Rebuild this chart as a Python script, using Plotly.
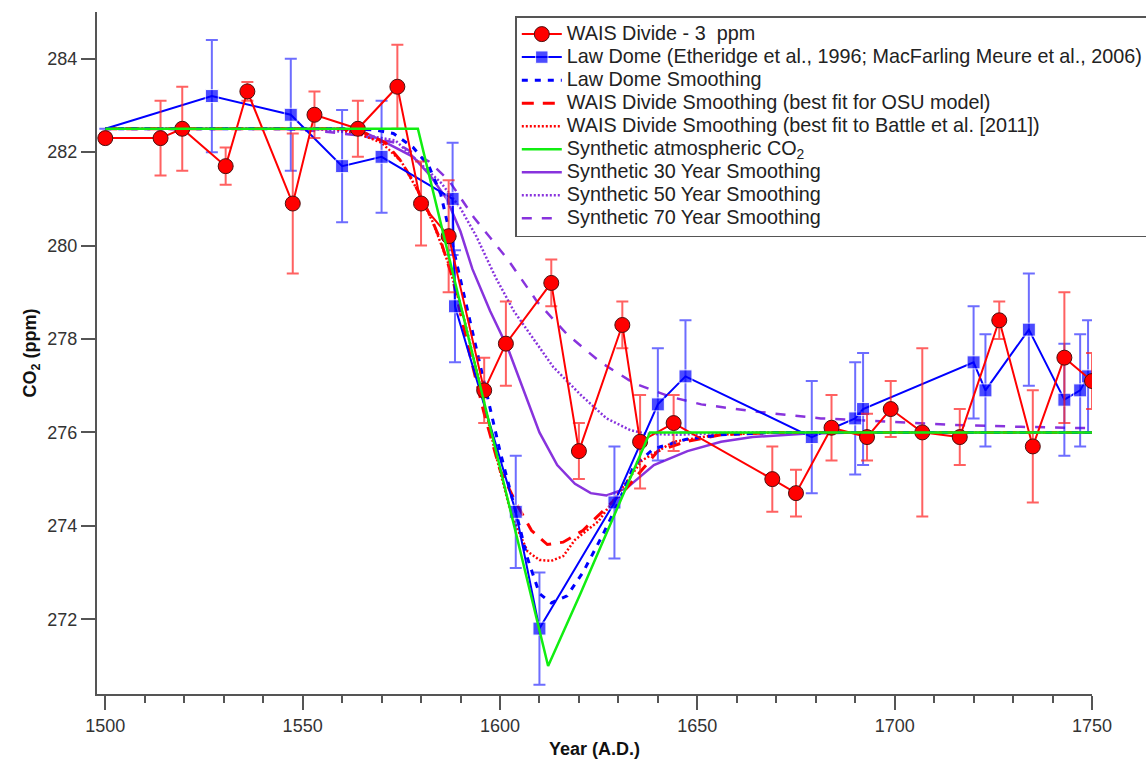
import plotly.graph_objects as go

# ---------------- data ----------------
wais_year = [1500, 1514, 1519.5, 1530.5, 1536, 1547.5, 1553, 1564, 1574, 1580, 1587,
             1596, 1601.5, 1613, 1620, 1631, 1635.5, 1644, 1669, 1675, 1684, 1693,
             1699, 1707, 1716.5, 1726.5, 1735, 1743, 1750]
wais_co2 = [282.3, 282.3, 282.5, 281.7, 283.3, 280.9, 282.8, 282.5, 283.4, 280.9, 280.2,
            276.9, 277.9, 279.2, 275.6, 278.3, 275.8, 276.2, 275.0, 274.7, 276.1, 275.9,
            276.5, 276.0, 275.9, 278.4, 275.7, 277.6, 277.1]
wais_err = [0.1, 0.8, 0.9, 0.4, 0.2, 1.5, 0.5, 0.6, 0.9, 0.9, 1.2,
            0.7, 0.9, 0.5, 0.6, 0.5, 1.0, 0.6, 0.7, 0.5, 0.7, 0.5,
            0.6, 1.8, 0.6, 0.4, 1.2, 1.4, 0.6]

ld_year = [1500, 1527, 1547, 1560, 1570, 1588, 1588.6, 1604, 1610, 1629, 1640, 1647,
           1679, 1690, 1692, 1720, 1723, 1734, 1743, 1747, 1749]
ld_co2 = [282.5, 283.2, 282.8, 281.7, 281.9, 281.0, 278.7, 274.3, 271.8, 274.5, 276.6, 277.2,
          275.9, 276.3, 276.5, 277.5, 276.9, 278.2, 276.7, 276.9, 277.2]
ld_err = [None, 1.2, 1.2, 1.2, 1.2, 1.2, 1.2, 1.2, 1.2, 1.2, 1.2, 1.2,
          1.2, 1.2, 1.2, 1.2, 1.2, 1.2, 1.2, 1.2, 1.2]
ld_size = [0] + [13] * 20

lds_year = [1500, 1560, 1568, 1573, 1578, 1582, 1585, 1588, 1592, 1596, 1600, 1604, 1607,
            1610, 1613, 1617, 1621, 1626, 1630, 1634, 1639, 1647, 1656, 1670, 1750]
lds_co2 = [282.5, 282.5, 282.48, 282.4, 282.1, 281.7, 281.1, 280.0, 278.5, 277.0, 275.6, 274.3,
           273.3, 272.55, 272.35, 272.5, 273.0, 273.8, 274.5, 275.3, 275.65, 275.85, 275.95,
           276.0, 276.0]

wo_year = [1500, 1560, 1566, 1571, 1575, 1578.5, 1582, 1585, 1588, 1592, 1596, 1600, 1604,
           1608, 1612, 1616, 1621, 1626, 1632, 1636, 1640, 1647, 1656, 1670, 1750]
wo_co2 = [282.5, 282.5, 282.4, 282.2, 281.8, 281.3, 280.7, 280.1, 279.3, 277.8, 276.4, 275.2,
          274.5, 273.9, 273.6, 273.65, 273.9, 274.3, 274.8, 275.2, 275.6, 275.8, 275.95,
          276.0, 276.0]

wb_year = [1500, 1558, 1564, 1570, 1575, 1579, 1583, 1587, 1591, 1595, 1599, 1603, 1607,
           1610, 1613, 1616, 1619, 1625, 1630, 1636, 1644, 1655, 1670, 1750]
wb_co2 = [282.5, 282.5, 282.4, 282.2, 281.8, 281.2, 280.5, 279.6, 278.4, 277.0, 275.5, 274.2,
          273.45, 273.27, 273.25, 273.35, 273.7, 274.1, 274.7, 275.4, 275.8, 275.95, 276.0, 276.0]

syn_year = [1500, 1579.2, 1612.2, 1620.4, 1638, 1750]
syn_co2 = [282.5, 282.5, 271.0, 272.55, 276.0, 276.0]

s30_year = [1500, 1560, 1565, 1570, 1578, 1582.3, 1586.5, 1590, 1593, 1597.5, 1602, 1606,
            1610, 1614.5, 1619, 1623, 1627, 1632, 1639, 1647.5, 1656, 1664, 1677, 1690, 1750]
s30_co2 = [282.5, 282.5, 282.45, 282.25, 281.9, 281.5, 281.0, 280.3, 279.5, 278.6, 277.8, 276.9,
           276.0, 275.3, 274.9, 274.7, 274.65, 274.8, 275.3, 275.6, 275.8, 275.9, 275.97,
           276.0, 276.0]

s50_year = [1500, 1553, 1563.5, 1573.5, 1580.5, 1585, 1590, 1594, 1599, 1603.5, 1608.5,
            1613.5, 1620.5, 1627, 1633, 1637, 1645, 1660, 1750]
s50_co2 = [282.5, 282.5, 282.4, 282.25, 281.7, 281.35, 280.8, 280.2, 279.3, 278.6, 278.0,
           277.4, 276.8, 276.3, 276.05, 275.97, 275.95, 276.0, 276.0]

s70_year = [1500, 1545, 1556.5, 1565, 1573.5, 1582, 1587, 1593.4, 1597.7, 1602, 1609.4, 1617,
            1625.5, 1634, 1643.3, 1651, 1664.4, 1681.3, 1698.2, 1715.2, 1732, 1750]
s70_co2 = [282.5, 282.5, 282.43, 282.35, 282.2, 281.8, 281.4, 280.6, 280.15, 279.7, 278.8, 278.1,
           277.5, 277.05, 276.76, 276.6, 276.45, 276.3, 276.23, 276.16, 276.12, 276.09]

y_ticks = [272, 274, 276, 278, 280, 282, 284]
x_ticks = [1500, 1550, 1600, 1650, 1700, 1750]

# ---------------- styles ----------------
RED = "#ff0000"
BLUE = "#0000ff"
GREEN = "#11ee11"
PURPLE = "#8833dd"
FONT = "Liberation Sans, Arial, sans-serif"


def lg(text):
    # legend label: larger glyphs than the legend's row height font
    return '<span style="font-size:19.8px">' + text + '</span>'


fig = go.Figure()

# smoothings (drawn first, underneath)
fig.add_trace(go.Scatter(x=s70_year, y=s70_co2, mode="lines", name=lg("Synthetic 70 Year Smoothing"),
                         line=dict(color=PURPLE, width=2.5, dash="10px,10px"), legendrank=9))
fig.add_trace(go.Scatter(x=s50_year, y=s50_co2, mode="lines", name=lg("Synthetic 50 Year Smoothing"),
                         line=dict(color=PURPLE, width=2.5, dash="2px,2px"), legendrank=8))
fig.add_trace(go.Scatter(x=s30_year, y=s30_co2, mode="lines", name=lg("Synthetic 30 Year Smoothing"),
                         line=dict(color=PURPLE, width=2.5), legendrank=7))
fig.add_trace(go.Scatter(x=wb_year, y=wb_co2, mode="lines",
                         name=lg("WAIS Divide Smoothing (best fit to Battle et al. [2011])"),
                         line=dict(color=RED, width=2.5, dash="2px,2px"), legendrank=5))
fig.add_trace(go.Scatter(x=wo_year, y=wo_co2, mode="lines",
                         name=lg("WAIS Divide Smoothing (best fit for OSU model)"),
                         line=dict(color=RED, width=3, dash="12px,9px"), legendrank=4))
fig.add_trace(go.Scatter(x=lds_year, y=lds_co2, mode="lines", name=lg("Law Dome Smoothing"),
                         line=dict(color=BLUE, width=3, dash="6px,7px"), legendrank=3))

# data
fig.add_trace(go.Scatter(x=ld_year, y=ld_co2, mode="lines+markers",
                         name=lg("Law Dome (Etheridge et al., 1996; MacFarling Meure et al., 2006)"),
                         line=dict(color=BLUE, width=2),
                         marker=dict(symbol="square", size=ld_size, color=BLUE),
                         error_y=dict(type="data", array=ld_err, color="rgba(30,30,255,0.65)",
                                      thickness=2, width=6),
                         legendrank=2))
fig.add_trace(go.Scatter(x=wais_year, y=wais_co2, mode="lines+markers",
                         name=lg("WAIS Divide - 3  ppm"),
                         line=dict(color=RED, width=2),
                         marker=dict(symbol="circle", size=15, color=RED,
                                     line=dict(color="#4a1010", width=1)),
                         error_y=dict(type="data", array=wais_err, color="rgba(255,30,30,0.7)",
                                      thickness=2, width=6),
                         legendrank=1))
fig.add_trace(go.Scatter(x=syn_year, y=syn_co2, mode="lines",
                         name=lg("Synthetic atmospheric CO<sub>2</sub>"),
                         line=dict(color=GREEN, width=2.5), legendrank=6))

axis_common = dict(
    showline=True, linecolor="#555555", linewidth=2,
    ticks="outside", ticklen=14, tickwidth=2, tickcolor="#555555",
    showgrid=False, zeroline=False, automargin=False,
    tickfont=dict(family=FONT, size=18, color="#333333"),
)

fig.update_xaxes(range=[1497.9, 1750], tickvals=x_ticks,
                 minor=dict(dtick=10, tick0=1500, ticks="outside", ticklen=7,
                            tickwidth=1.5, tickcolor="#555555", showgrid=False),
                 title=dict(text="<b>Year (A.D.)</b>", font=dict(family=FONT, size=18, color="#111"),
                            standoff=8),
                 **axis_common)
fig.update_yaxes(range=[270.40, 285.0], tickvals=y_ticks,
                 title=dict(text="<b>CO<sub>2</sub> (ppm)</b>", font=dict(family=FONT, size=18, color="#111"),
                            standoff=6),
                 **axis_common)

fig.update_layout(
    width=1146, height=763,
    margin=dict(l=97, r=54, t=12, b=69, pad=0, autoexpand=False),
    plot_bgcolor="white", paper_bgcolor="white",
    font=dict(family=FONT, size=18, color="#222"),
    legend=dict(x=0.4204, y=0.994, xanchor="left", yanchor="top",
                bgcolor="white", bordercolor="#555555", borderwidth=1.5,
                font=dict(family=FONT, size=15.4, color="#222"),
                traceorder="normal", itemwidth=40),
    showlegend=True,
)

fig.write_html("out.html", config={"displayModeBar": False},
               post_script="document.body.style.margin='0px';document.body.style.overflow='hidden';")
